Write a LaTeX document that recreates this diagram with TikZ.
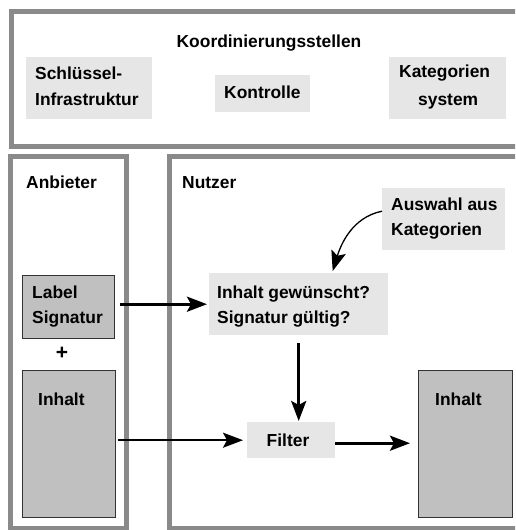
\documentclass[tikz,border=0pt]{standalone}
\usepackage{fontspec}
\setmainfont{Liberation Sans}
\usetikzlibrary{arrows.meta}
\definecolor{framegray}{HTML}{8A8A8A}
\definecolor{lightfill}{HTML}{E6E6E6}
\definecolor{darkfill}{HTML}{C0C0C0}
\definecolor{darkline}{HTML}{333333}
\begin{document}
\begin{tikzpicture}[x=1pt,y=-1pt,
  frame/.style={draw=framegray,line width=5pt},
  lightbox/.style={fill=lightfill,inner sep=0pt,anchor=north west},
  darkbox/.style={fill=darkfill,draw=darkline,line width=1pt,inner sep=0pt,anchor=north west},
  txt/.style={font=\fontsize{17.4}{25}\selectfont\bfseries,inner sep=0pt,anchor=base west},
  arr/.style={-{Stealth[length=20pt,width=15pt,inset=4pt]},line width=3pt},
  arrmid/.style={-{Stealth[length=20pt,width=15pt,inset=4pt]},line width=2pt},
  arrthin/.style={-{Stealth[length=20pt,width=15pt,inset=4pt]},line width=1.3pt}
]
\fill[white] (0,0) rectangle (515,530);
\clip (0,0) rectangle (515,530);

% frames
\draw[frame] (11.5,11.5) rectangle (540,146.5);
\draw[frame] (10.5,156.5) rectangle (126.5,528);
\draw[frame] (169.5,156.5) rectangle (540,528);

% top area
\node[txt,anchor=base] (koord) at (269,47) {Koordinierungsstellen};
\node[lightbox,minimum width=126pt,minimum height=62pt] (schl) at (26,57) {};
\node[txt] (schlA) at (35,79) {Schlüssel-};
\node[txt] (schlB) at (35,105) {Infrastruktur};
\node[lightbox,minimum width=95pt,minimum height=37pt] (kontr) at (215,75) {};
\node[txt] (kontrT) at (224,98) {Kontrolle};
\node[lightbox,minimum width=117pt,minimum height=62pt] (kat) at (389,57) {};
\node[txt] (katA) at (399,77) {Kategorien};
\node[txt] (katB) at (418,105) {system};

% Anbieter
\node[txt] (anb) at (26,188) {Anbieter};
\node[darkbox,minimum width=92pt,minimum height=63pt] (label) at (22,275) {};
\node[txt] (labelA) at (32,298) {Label};
\node[txt] (labelB) at (32,323) {Signatur};
\node[font=\fontsize{21}{22}\selectfont\bfseries,inner sep=0pt] (plus) at (62,353) {+};
\node[darkbox,minimum width=93pt,minimum height=147pt] (inhL) at (22,370) {};
\node[txt] (inhLT) at (38,405) {Inhalt};

% Nutzer
\node[txt] (nutz) at (182,188) {Nutzer};
\node[lightbox,minimum width=123pt,minimum height=62pt] (ausw) at (382,188) {};
\node[txt] (auswA) at (391,210) {Auswahl aus};
\node[txt] (auswB) at (391,235) {Kategorien};
\node[lightbox,minimum width=179pt,minimum height=62pt] (quest) at (209,273) {};
\node[txt] (questA) at (217,298) {Inhalt gewünscht?};
\node[txt] (questB) at (217,323) {Signatur gültig?};
\node[lightbox,minimum width=88pt,minimum height=36pt] (filt) at (247,422) {};
\node[txt,anchor=base] (filtT) at (288,446) {Filter};
\node[darkbox,minimum width=94pt,minimum height=147pt] (inhR) at (418,370) {};
\node[txt] (inhRT) at (435,405) {Inhalt};

% connectors
\draw[arr,shorten <=5pt,shorten >=2pt] (label.east |- quest.west) -- (quest.west);
\draw[arrmid,shorten <=2pt,shorten >=4pt] (inhL.east |- filt.west) -- (filt.west);
\draw[arr,shorten <=8pt,shorten >=1pt] (quest.south) -- (quest.south |- filt.north);
\draw[arr,shorten >=8pt] ([yshift=-3pt]filt.east) -- ([yshift=-3pt]filt.east -| inhR.west);
\draw[arrthin] ([yshift=8pt]ausw.west) .. controls +(-30,6) and +(8,-26) .. ([xshift=34pt,yshift=2pt]quest.north);
\end{tikzpicture}
\end{document}
